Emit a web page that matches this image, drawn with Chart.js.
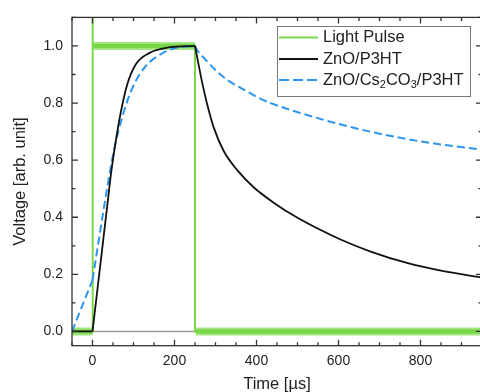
<!DOCTYPE html>
<html>
<head>
<meta charset="utf-8">
<script src="https://cdn.jsdelivr.net/npm/chart.js@4.4.0/dist/chart.umd.min.js"></script>
<style>
html, body { margin: 0; padding: 0; background: #fff; overflow: hidden; }
#wrap { width: 482px; height: 392px; }
</style>
</head>
<body>
<div id="wrap"><canvas id="pulseChart" width="482" height="392"></canvas></div>
<script>
// tick labels
const xTickVals = [0, 200, 400, 600, 800];
const yTickVals = [0, 0.2, 0.4, 0.6, 0.8, 1.0];

// light pulse (thin trace + noisy plateaus)
const pulseT = [-50, 0, 0, 1, 250, 250, 950];
const pulseV = [0, 0, 1.2, 1.0, 1.0, 0, 0];
const pulseBandT = [-50, 0, 0, 2, 250, 250, 252, 950];
const pulseBandV = [0, 0, null, 1.0, 1.0, null, 0, 0];

// baseline
const zeroT = [0, 950];
const zeroV = [0, 0];

// ZnO/P3HT
const p3htFlatT = [-50, 0];
const p3htFlatV = [0, 0];
const p3htRiseT = [0, 40, 44, 56, 68, 84.5, 105, 137, 186, 250];
const p3htRiseV = [0, 0.49, 0.54, 0.66, 0.76, 0.864, 0.934, 0.974, 0.995, 1.0];
const p3htDecayT = [250, 258, 267, 280, 296, 320, 353, 393, 441, 500, 605, 680, 767, 850, 950];
const p3htDecayV = [1.0, 0.94, 0.875, 0.794, 0.713, 0.632, 0.565, 0.505, 0.452, 0.398, 0.322, 0.279, 0.24, 0.213, 0.189];

// ZnO/Cs2CO3/P3HT
const cs2PreT = [-50, 0];
const cs2PreV = [0, 0.18];
const cs2RiseT = [0, 36, 52, 72, 97, 129, 170, 202, 250];
const cs2RiseV = [0.18, 0.504, 0.632, 0.748, 0.852, 0.928, 0.974, 0.993, 1.0];
const cs2DecayT = [250, 255, 275, 304, 335, 369, 400, 434, 470, 507, 600, 686, 770, 849, 950];
const cs2DecayV = [1.0, 0.986, 0.953, 0.91, 0.875, 0.847, 0.822, 0.80, 0.782, 0.765, 0.727, 0.697, 0.673, 0.655, 0.637];

const FONT = "'Liberation Sans', Arial, sans-serif";
const GREEN = "#7ad84c";
const BLUE = "#2b95f0";
const BLACK = "#111";

const pts = (ts, vs) => ts.map((t, i) => ({ x: t, y: vs[i] }));

function lineSet(ts, vs, color, width, order, extra) {
    return Object.assign({
        data: pts(ts, vs),
        borderColor: color,
        borderWidth: width,
        pointRadius: 0,
        fill: false,
        tension: 0,
        order: order
    }, extra || {});
}

const smooth = { cubicInterpolationMode: "monotone" };
const dashed = { borderDash: [8, 4] };

const framePlugin = {
    id: "frame",
    afterDatasetsDraw(chart) {
        const { ctx, chartArea: a, scales: { x, y } } = chart;
        ctx.save();
        ctx.strokeStyle = "#333";
        ctx.lineWidth = 1.3;
        ctx.beginPath();
        for (let v = -50; v <= 950; v += 50) {
            const len = v % 200 === 0 ? 6 : 3.5;
            const px = x.getPixelForValue(v);
            ctx.moveTo(px, a.bottom); ctx.lineTo(px, a.bottom - len);
            ctx.moveTo(px, a.top); ctx.lineTo(px, a.top + len);
        }
        for (let i = 0; i <= 11; i++) {
            const v = i / 10;
            const len = i % 2 === 0 ? 6 : 3.5;
            const py = y.getPixelForValue(v);
            ctx.moveTo(a.left, py); ctx.lineTo(a.left + len, py);
            ctx.moveTo(a.right, py); ctx.lineTo(a.right - len, py);
        }
        ctx.stroke();
        ctx.strokeRect(a.left, a.top, a.width, a.height);

        // legend box
        ctx.fillStyle = "#fff";
        ctx.fillRect(277.5, 26.5, 193, 70);
        ctx.strokeStyle = "#7a7a7a";
        ctx.lineWidth = 1;
        ctx.strokeRect(277.5, 26.5, 193, 70);

        const rows = [37.5, 59, 80];
        ctx.lineWidth = 2;
        ctx.strokeStyle = GREEN;
        ctx.beginPath(); ctx.moveTo(279, rows[0]); ctx.lineTo(318, rows[0]); ctx.stroke();
        ctx.strokeStyle = BLACK;
        ctx.beginPath(); ctx.moveTo(279, rows[1]); ctx.lineTo(318, rows[1]); ctx.stroke();
        ctx.strokeStyle = BLUE;
        ctx.setLineDash([10, 4]);
        ctx.beginPath(); ctx.moveTo(279, rows[2]); ctx.lineTo(318, rows[2]); ctx.stroke();
        ctx.setLineDash([]);

        ctx.fillStyle = "#222";
        ctx.textBaseline = "middle";
        ctx.font = "16.5px " + FONT;
        ctx.fillText("Light Pulse", 323, rows[0]);
        ctx.fillText("ZnO/P3HT", 323, rows[1]);
        let tx = 323;
        const parts = [["ZnO/Cs", false], ["2", true], ["CO", false], ["3", true], ["/P3HT", false]];
        parts.forEach(([s, sub]) => {
            ctx.font = (sub ? "11px " : "16.5px ") + FONT;
            ctx.fillText(s, tx, rows[2] + (sub ? 5 : 0));
            tx += ctx.measureText(s).width;
        });
        ctx.restore();
    }
};

const ctx = document.getElementById("pulseChart").getContext("2d");

new Chart(ctx, {
    type: "line",
    data: {
        datasets: [
            lineSet(zeroT, zeroV, "#9a9a9a", 1.5, 9),
            lineSet(pulseBandT, pulseBandV, "rgba(125,218,78,0.7)", 8, 8),
            lineSet(pulseBandT, pulseBandV, "rgba(110,210,60,0.85)", 4, 7),
            lineSet(pulseT, pulseV, GREEN, 2, 6),
            lineSet(cs2PreT, cs2PreV, BLUE, 2, 3, dashed),
            lineSet(cs2RiseT, cs2RiseV, BLUE, 2, 3, Object.assign({}, dashed, smooth)),
            lineSet(cs2DecayT, cs2DecayV, BLUE, 2, 3, Object.assign({}, dashed, smooth)),
            lineSet(p3htFlatT, p3htFlatV, BLACK, 1.8, 1),
            lineSet(p3htRiseT, p3htRiseV, BLACK, 1.8, 1, smooth),
            lineSet(p3htDecayT, p3htDecayV, BLACK, 1.8, 1, smooth)
        ]
    },
    options: {
        responsive: false,
        animation: false,
        layout: { padding: { top: 15, left: 0, right: 0, bottom: 0 } },
        plugins: {
            legend: { display: false },
            tooltip: { enabled: false }
        },
        scales: {
            x: {
                type: "linear",
                min: -50,
                max: 950,
                grid: { display: false, drawTicks: false },
                border: { display: false },
                afterBuildTicks: (s) => { s.ticks = xTickVals.map(v => ({ value: v })); },
                afterFit: (s) => { s.height = 46.3; },
                ticks: {
                    color: "#222",
                    padding: 7,
                    maxRotation: 0,
                    font: { family: FONT, size: 14 }
                },
                title: {
                    display: true,
                    text: "Time [µs]",
                    color: "#222",
                    padding: { top: 0, bottom: -1 },
                    font: { family: FONT, size: 16.5, lineHeight: 1 }
                }
            },
            y: {
                type: "linear",
                min: -0.05,
                max: 1.1,
                grid: { display: false, drawTicks: false },
                border: { display: false },
                afterBuildTicks: (s) => { s.ticks = yTickVals.map(v => ({ value: v })); },
                afterFit: (s) => { s.width = 72; },
                ticks: {
                    color: "#222",
                    padding: 9,
                    font: { family: FONT, size: 14 },
                    callback: (v) => Number(v).toFixed(1)
                },
                title: {
                    display: true,
                    text: "Voltage [arb. unit]",
                    color: "#222",
                    padding: { top: 12, bottom: 0 },
                    font: { family: FONT, size: 16.5, lineHeight: 1 }
                }
            }
        }
    },
    plugins: [framePlugin]
});
</script>
</body>
</html>
